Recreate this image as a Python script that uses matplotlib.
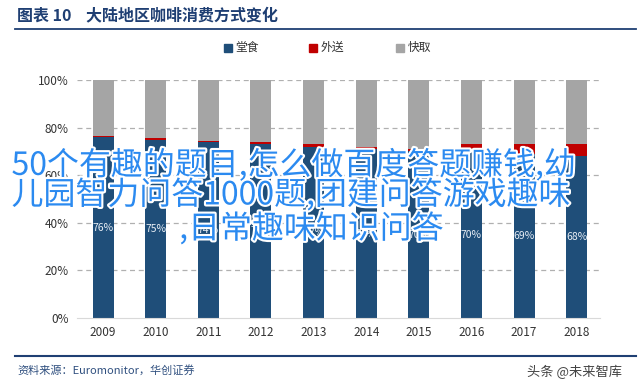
import numpy as np
import matplotlib.pyplot as plt
import matplotlib.patheffects as pe
from matplotlib.patches import Rectangle

plt.rcParams['font.family'] = ['Noto Sans CJK SC', 'DejaVu Sans']

# data (percent)
years = ['2009', '2010', '2011', '2012', '2013', '2014', '2015', '2016', '2017', '2018']
dine_in = [76, 75, 74, 73, 72, 71, 70, 70, 69, 68]
delivery = [0.5, 0.5, 0.5, 1, 1, 1, 1, 3, 4, 5]
takeaway = [100 - a - b for a, b in zip(dine_in, delivery)]
series_names = ['堂食', '外送', '快取']

BLUE = '#1F4E79'
RED = '#C00000'
GREY = '#A5A5A5'
TEXT = '#333333'

fig = plt.figure(figsize=(6.4, 3.85), dpi=100)
ax = fig.add_axes([0.120, 0.174, 0.818, 0.618])

x = np.arange(len(years))
w = 0.4
d = np.array(dine_in, dtype=float)
r = np.array(delivery, dtype=float)
g = np.array(takeaway, dtype=float)
ax.bar(x, d, w, color=BLUE, zorder=2)
ax.bar(x, r, w, bottom=d, color=RED, zorder=2)
ax.bar(x, g, w, bottom=d + r, color=GREY, zorder=2)

for xi, v in zip(x, dine_in):
    ax.text(xi, v / 2, f'{v}%', ha='center', va='center', color='#e8eef5', fontsize=7.5, zorder=3)

ax.set_ylim(0, 100)
ax.set_xlim(-0.5, len(years) - 0.55)
ax.set_yticks(np.arange(0, 101, 20))
ax.set_yticklabels([f'{v}%' for v in range(0, 101, 20)], color=TEXT, fontsize=8.5)
ax.set_xticks(x)
ax.set_xticklabels(years, color=TEXT, fontsize=8.5)
ax.tick_params(length=0, pad=6)
for v in range(20, 101, 20):
    ax.axhline(v, color='#b0b0b0', lw=0.9, ls=(0, (4, 3)), zorder=1)
for s in ['top', 'right', 'left']:
    ax.spines[s].set_visible(False)
ax.spines['bottom'].set_color('#d9d9d9')

# legend
for lx, name, col in zip([0.356, 0.489, 0.625], series_names, [BLUE, RED, GREY]):
    fig.patches.append(Rectangle((lx - 0.006, 0.866), 0.012, 0.02, color=col, transform=fig.transFigure))
    fig.text(lx + 0.012, 0.876, name, fontsize=8.5, color=TEXT, va='center')

# title and rules
fig.text(0.027, 0.961, '图表 10    大陆地区咖啡消费方式变化', fontsize=11.5, fontweight='bold',
         color='#1F3F73', va='center')
fig.add_artist(plt.Line2D([0.023, 0.993], [0.924, 0.924], color='#1F3F73', lw=1.3))
fig.add_artist(plt.Line2D([0.023, 0.993], [0.076, 0.076], color='#1F3F73', lw=1.5))
fig.text(0.027, 0.039, '资料来源：Euromonitor，华创证券', fontsize=8, style='italic',
         color='#2F4F7F', va='center')
fig.text(0.898, 0.033, '头条 @未来智库', fontsize=9.5, color='#444444', va='center', ha='center')

# overlaid watermark text
wm = ['50个有趣的题目,怎么做百度答题赚钱,幼', '儿园智力问答1000题,团建问答游戏趣味', ',日常趣味知识问答']
wm_pos = [(0.018, 0.571), (0.018, 0.494), (0.280, 0.406)]
for (tx, ty), line in zip(wm_pos, wm):
    fig.text(tx, ty, line, fontsize=23, color='#2B8AF0', va='center',
             path_effects=[pe.withStroke(linewidth=3, foreground='white')], zorder=10)

fig.savefig('out.png', dpi=100, facecolor='white')
